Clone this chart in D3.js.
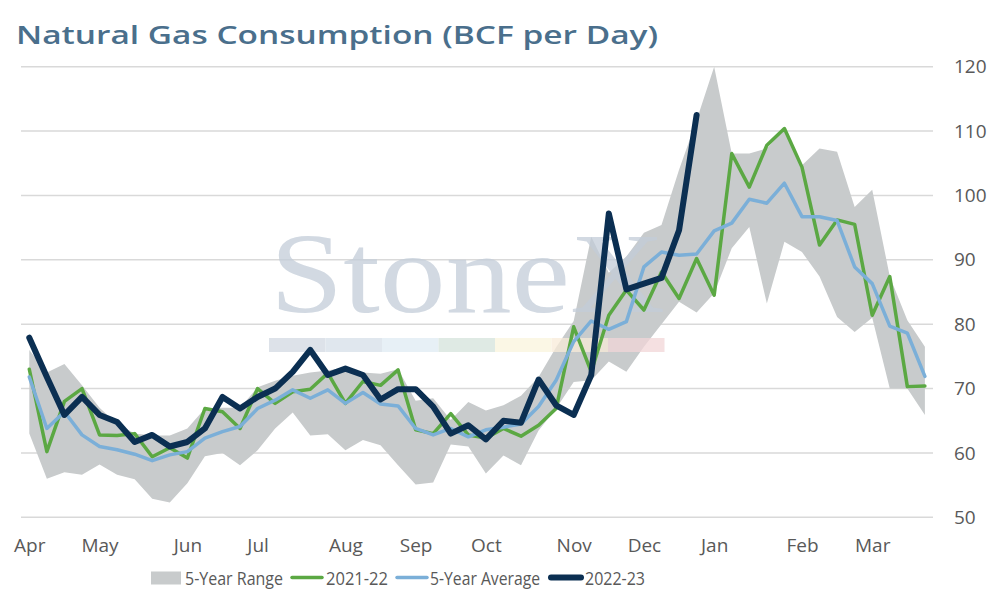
<!doctype html>
<html lang="en">
<head>
  <meta charset="utf-8">
  <title>Natural Gas Consumption</title>
  <style>
    body { margin: 0; background: #fff; }
    text { font-family: "Open Sans", "Noto Sans", sans-serif; }
    .grid line { stroke: #d9d9d9; stroke-width: 1.5; }
    .axis text { fill: #595959; font-size: 19px; }
    .legend text { fill: #595959; font-size: 19px; }
  </style>
</head>
<body>
  <div id="chart"></div>

  <script src="https://cdn.jsdelivr.net/npm/d3@7/dist/d3.min.js"></script>
  <script>
  // weekly points, week starting Sun 3 Apr 2022 -> 26 Mar 2023
  var weeks = d3.range(52).map(function(i) { return d3.timeDay.offset(new Date(2022, 3, 3), i * 7); });

  var rangeLow = [63.0, 56.0, 57.0, 56.6, 58.2, 56.6, 55.9, 52.9, 52.3, 55.3, 59.5, 60.0, 58.1, 60.4, 63.8, 66.3, 62.7, 62.9,
    60.4, 62.0, 61.2, 58.1, 55.1, 55.4, 61.3, 61.0, 56.8, 59.6, 58.1, 63.5, 66.9, 71.0, 71.3, 74.2, 72.6, 76.5, 80.0, 83.5,
    81.8, 84.8, 91.8, 95.1, 83.2, 92.8, 91.2, 87.4, 81.1, 78.8, 81.0, 70.0, 70.0, 65.9];
  var rangeHigh = [76.0, 72.5, 73.8, 70.5, 67.0, 64.5, 63.0, 62.7, 62.7, 63.8, 66.9, 67.0, 67.0, 70.2, 71.2, 72.0, 72.5, 72.8,
    73.3, 72.5, 72.3, 73.0, 68.1, 68.5, 65.1, 67.9, 66.6, 67.4, 68.9, 71.8, 76.4, 80.5, 93.6, 88.0, 90.5, 94.2, 95.4, 104.0,
    111.7, 120.0, 106.5, 106.5, 107.3, 110.4, 104.7, 107.3, 106.8, 98.2, 100.9, 87.4, 80.6, 76.5];
  var y2021 = [73.0, 60.2, 68.0, 70.0, 62.8, 62.7, 63.0, 59.4, 60.8, 59.2, 66.9, 66.4, 63.8, 70.0, 67.7, 69.5, 69.9, 72.4,
    67.7, 71.1, 70.5, 72.9, 63.6, 63.0, 66.1, 62.8, 62.3, 63.8, 62.6, 64.3, 66.9, 79.6, 72.6, 81.4, 85.3, 82.2, 88.1, 84.0,
    90.2, 84.5, 106.5, 101.3, 107.8, 110.4, 104.4, 92.3, 96.2, 95.5, 81.4, 87.4, 70.3, 70.4];
  var avg5 = [71.8, 63.8, 66.4, 62.8, 61.0, 60.5, 59.8, 58.8, 59.7, 60.2, 62.3, 63.3, 64.1, 66.9, 68.2, 69.8, 68.5, 69.8,
    67.7, 69.4, 67.6, 67.3, 63.8, 62.8, 63.8, 62.5, 63.6, 64.0, 64.5, 67.2, 71.3, 77.3, 80.5, 79.2, 80.4, 88.9, 91.2, 90.7,
    90.9, 94.5, 95.7, 99.4, 98.8, 101.9, 96.7, 96.7, 96.1, 88.9, 86.3, 79.7, 78.6, 71.9];
  var y2022 = [77.9, 71.8, 65.9, 68.7, 65.9, 64.8, 61.7, 62.8, 61.0, 61.7, 63.8, 68.7, 66.9, 68.7, 70.0, 72.6, 76.0, 72.1,
    73.1, 72.1, 68.3, 69.9, 69.9, 67.2, 63.0, 64.3, 62.1, 65.0, 64.7, 71.4, 67.4, 65.9, 72.1, 97.2, 85.4, 86.3, 87.2, 94.6, 112.5];

  var yTicks = [50, 60, 70, 80, 90, 100, 110, 120];
  var legendItems = ["5-Year Range", "2021-22", "5-Year Average", "2022-23"];
  var logoColors = ["#d2d9e2", "#d6dfe9", "#e0ebf4", "#d5e4dc", "#faf5dd", "#f9ecd9", "#f2d6d8"];

  var width = 994, height = 600;
  var svg = d3.select("#chart").append("svg").attr("width", width).attr("height", height);

  var x = d3.scalePoint().domain(weeks.map(function(d, i) { return i; })).range([29.3, 924.9]);
  var y = d3.scaleLinear().domain([50, 120]).range([517.3, 66.7]);

  // title
  svg.append("text")
    .attr("x", 16).attr("y", 44)
    .attr("textLength", 642).attr("lengthAdjust", "spacingAndGlyphs")
    .style("font-size", "26px").style("font-weight", 600).style("fill", "#4a6f8c")
    .text("Natural Gas Consumption (BCF per Day)");

  // gridlines
  svg.append("g").attr("class", "grid")
    .selectAll("line").data(yTicks).enter().append("line")
    .attr("x1", 21).attr("x2", 933)
    .attr("y1", function(d) { return y(d); }).attr("y2", function(d) { return y(d); });

  // 5-year range band
  var area = d3.area()
    .x(function(d, i) { return x(i); })
    .y0(function(d, i) { return y(rangeLow[i]); })
    .y1(function(d) { return y(d); });
  svg.append("path").datum(rangeHigh).attr("d", area).style("fill", "#c8cbcc");

  // watermark
  var wm = svg.append("g").style("opacity", 0.75);
  wm.append("text")
    .attr("x", 270).attr("y", 312)
    .attr("textLength", 395).attr("lengthAdjust", "spacingAndGlyphs")
    .style("font-family", "'Liberation Serif', 'DejaVu Serif', serif")
    .style("font-size", "114px").style("fill", "#c3cdd9")
    .text("StoneX");
  wm.selectAll("rect").data(logoColors).enter().append("rect")
    .attr("x", function(d, i) { return 269 + i * 56.5; }).attr("y", 338)
    .attr("width", 56.5).attr("height", 14)
    .style("fill", function(d) { return d; });

  // lines
  var line = d3.line().x(function(d, i) { return x(i); }).y(function(d) { return y(d); });
  var series = [
    { data: y2021, color: "#5ba843", w: 3.5 },
    { data: avg5, color: "#7bafd8", w: 3.5 },
    { data: y2022, color: "#0b2f52", w: 6 }
  ];
  svg.selectAll(".series").data(series).enter().append("path")
    .attr("class", "series")
    .attr("d", function(s) { return line(s.data); })
    .style("fill", "none")
    .style("stroke", function(s) { return s.color; })
    .style("stroke-width", function(s) { return s.w; })
    .style("stroke-linejoin", "round")
    .style("stroke-linecap", "round");

  // y axis on the right
  var yAxis = svg.append("g").attr("class", "axis")
    .attr("transform", "translate(954,0)")
    .call(d3.axisRight(y).tickValues(yTicks).tickSize(0).tickPadding(0));
  yAxis.select(".domain").remove();

  // month labels at the first week of each month
  var fmt = d3.timeFormat("%b");
  var monthIdx = weeks.map(function(d, i) { return i; }).filter(function(i) { return weeks[i].getDate() <= 7; });
  var xAxis = svg.append("g").attr("class", "axis")
    .attr("transform", "translate(0,538.5)")
    .call(d3.axisBottom(x).tickValues(monthIdx).tickSize(0).tickPadding(0)
      .tickFormat(function(i) { return fmt(weeks[i]); }));
  xAxis.select(".domain").remove();
  xAxis.selectAll("text").attr("dy", "0.71em");

  // legend
  var legend = svg.append("g").attr("class", "legend");
  var lx = [151, 290, 395, 549];
  var tx = [185, 326, 430, 585];
  var tw = [98, 62, 110, 60];
  legend.append("rect").attr("x", lx[0]).attr("y", 571.5).attr("width", 30).attr("height", 13).style("fill", "#c8cbcc");
  series.forEach(function(s, i) {
    legend.append("line")
      .attr("x1", lx[i + 1] + 2).attr("x2", lx[i + 1] + 32)
      .attr("y1", 577.5).attr("y2", 577.5)
      .style("stroke", s.color).style("stroke-width", s.w)
      .style("stroke-linecap", "round");
  });
  legend.selectAll("text").data(legendItems).enter().append("text")
    .attr("x", function(d, i) { return tx[i]; }).attr("y", 584.5)
    .attr("textLength", function(d, i) { return tw[i]; }).attr("lengthAdjust", "spacingAndGlyphs")
    .text(function(d) { return d; });
  </script>
</body>
</html>
